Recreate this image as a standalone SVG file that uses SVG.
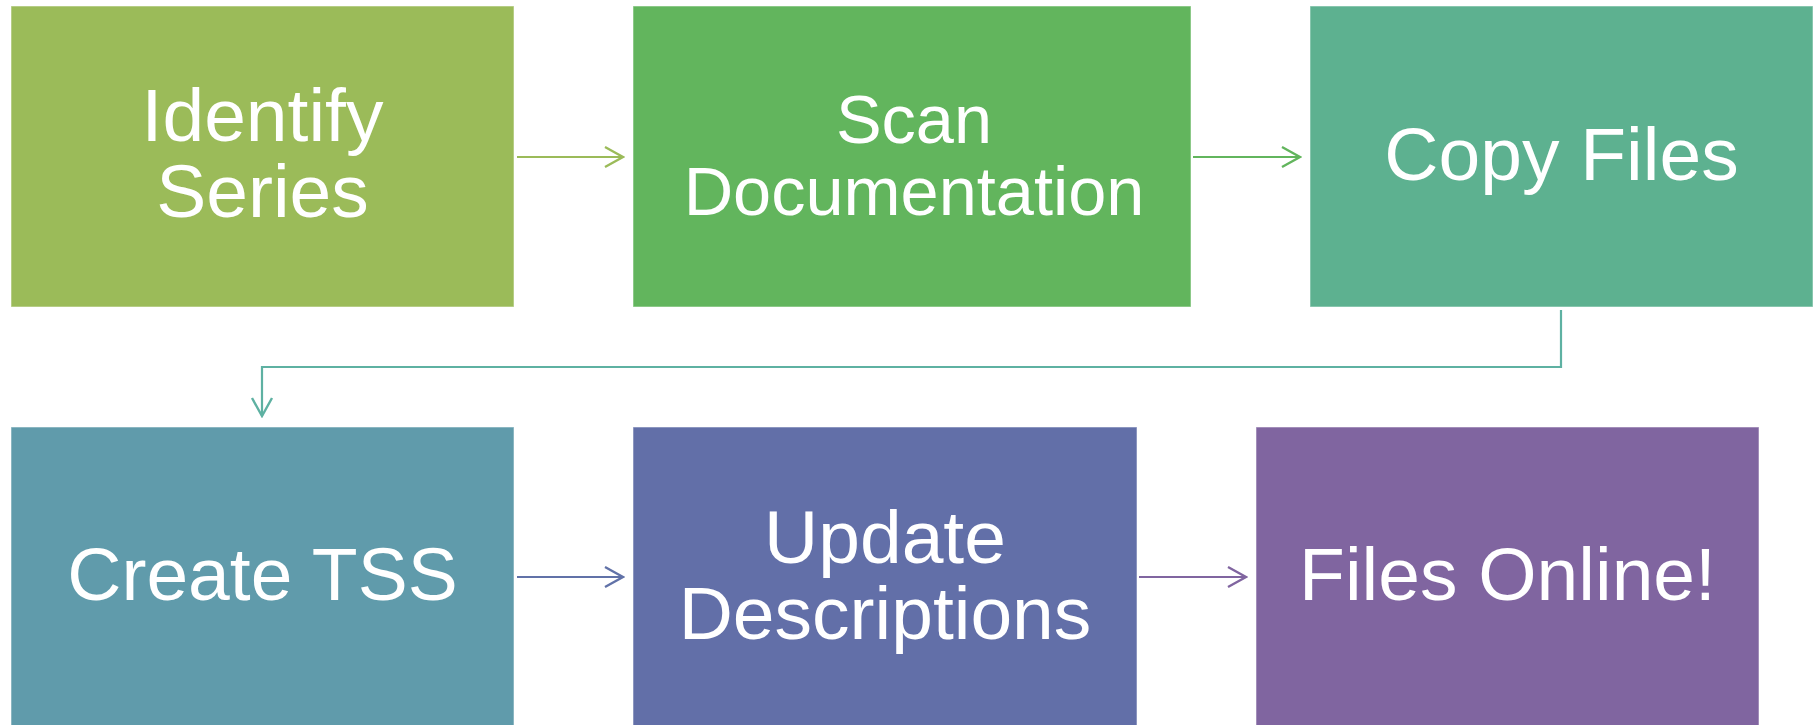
<svg xmlns="http://www.w3.org/2000/svg" width="1820" height="725" viewBox="0 0 1820 725">
  <style>
    .box { stroke: #ffffff; stroke-opacity: 0.45; stroke-width: 1.2; }
    .lbl { font-family: "Liberation Sans", Arial, sans-serif; font-size: 75px; fill: #ffffff; text-anchor: middle; }
    .sm { font-size: 68.5px; }
    .conn { fill: none; stroke-width: 2.2; }
  </style>
  <defs>
    <marker id="ah1" markerUnits="userSpaceOnUse" viewBox="0 0 22 24" refX="20" refY="12" markerWidth="22" markerHeight="24" orient="auto">
      <path d="M2,2 L20,12 L2,22" fill="none" stroke="#9bbb59" stroke-width="2.4"/>
    </marker>
    <marker id="ah2" markerUnits="userSpaceOnUse" viewBox="0 0 22 24" refX="20" refY="12" markerWidth="22" markerHeight="24" orient="auto">
      <path d="M2,2 L20,12 L2,22" fill="none" stroke="#62b55d" stroke-width="2.4"/>
    </marker>
    <marker id="ah3" markerUnits="userSpaceOnUse" viewBox="0 0 22 24" refX="20" refY="12" markerWidth="22" markerHeight="24" orient="auto">
      <path d="M2,2 L20,12 L2,22" fill="none" stroke="#5eb1a2" stroke-width="2.4"/>
    </marker>
    <marker id="ah4" markerUnits="userSpaceOnUse" viewBox="0 0 22 24" refX="20" refY="12" markerWidth="22" markerHeight="24" orient="auto">
      <path d="M2,2 L20,12 L2,22" fill="none" stroke="#6172a8" stroke-width="2.4"/>
    </marker>
    <marker id="ah5" markerUnits="userSpaceOnUse" viewBox="0 0 22 24" refX="20" refY="12" markerWidth="22" markerHeight="24" orient="auto">
      <path d="M2,2 L20,12 L2,22" fill="none" stroke="#8065a0" stroke-width="2.4"/>
    </marker>
  </defs>
  <rect width="1820" height="725" fill="#ffffff"/>

  <g id="connectors">
    <path class="conn" stroke="#9bbb59" d="M517,157 H623" marker-end="url(#ah1)"/>
    <path class="conn" stroke="#62b55d" d="M1193,157 H1300" marker-end="url(#ah2)"/>
    <path class="conn" stroke="#5eb1a2" d="M1561,310 V367 H262 V416" marker-end="url(#ah3)"/>
    <path class="conn" stroke="#6172a8" d="M517,577 H623" marker-end="url(#ah4)"/>
    <path class="conn" stroke="#8065a0" d="M1139,577 H1246" marker-end="url(#ah5)"/>
  </g>

  <g id="node-identify-series">
    <rect class="box" x="11" y="6" width="503" height="301" fill="#9bbb59"/>
    <text class="lbl" x="262.5" y="141">Identify</text>
    <text class="lbl" x="262.5" y="217">Series</text>
  </g>
  <g id="node-scan-documentation">
    <rect class="box" x="633" y="6" width="558" height="301" fill="#62b55d"/>
    <text class="lbl sm" x="914" y="143">Scan</text>
    <text class="lbl sm" x="914" y="215">Documentation</text>
  </g>
  <g id="node-copy-files">
    <rect class="box" x="1310" y="6" width="503" height="301" fill="#5db190"/>
    <text class="lbl" x="1561.5" y="180">Copy Files</text>
  </g>
  <g id="node-create-tss">
    <rect class="box" x="11" y="427" width="503" height="301" fill="#609bab"/>
    <text class="lbl" x="262.5" y="600">Create TSS</text>
  </g>
  <g id="node-update-descriptions">
    <rect class="box" x="633" y="427" width="504" height="301" fill="#626fa8"/>
    <text class="lbl" x="885" y="563">Update</text>
    <text class="lbl" x="885" y="639">Descriptions</text>
  </g>
  <g id="node-files-online">
    <rect class="box" x="1256" y="427" width="503" height="301" fill="#8065a0"/>
    <text class="lbl" x="1507.5" y="600">Files Online!</text>
  </g>
</svg>
